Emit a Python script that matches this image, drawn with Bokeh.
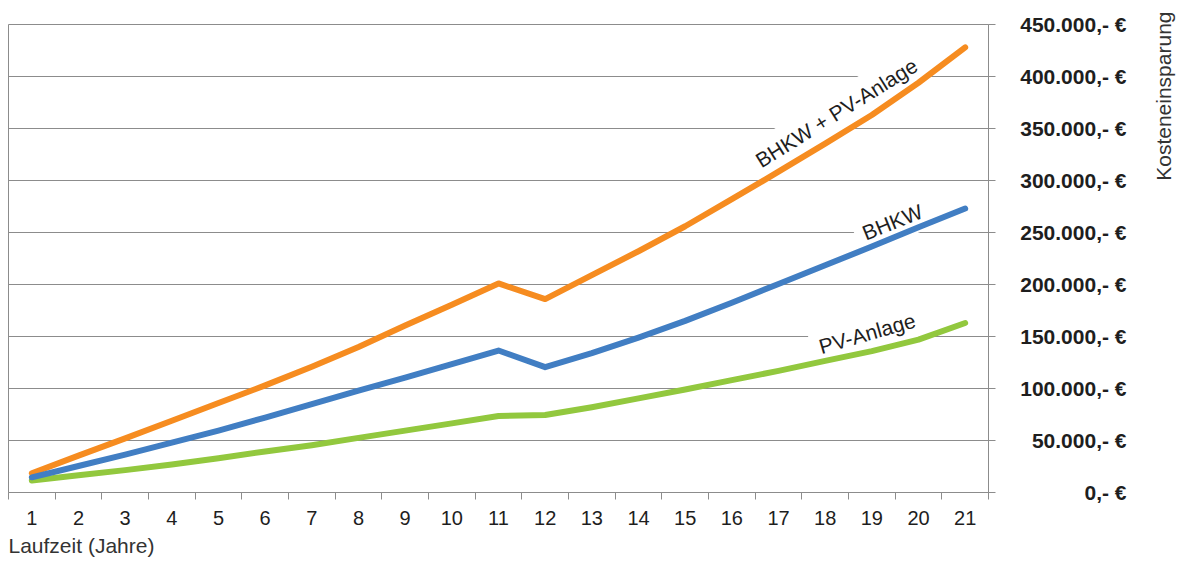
import math
from bokeh.plotting import figure
from bokeh.layouts import row
from bokeh.models import (Range1d, LinearAxis, FixedTicker, Label, Grid, Title,
                          CustomJSTickFormatter)
from bokeh.embed import file_html
from bokeh.resources import INLINE

# ---- data (Kosteneinsparung in EUR) ----
years = list(range(1, 22))
bhkw_pv = [18500, 35500, 52000, 69000, 86000, 103000, 121000, 140000, 160500, 180500,
           201000, 186000, 209000, 232000, 256000, 282000, 308500, 335500, 363000, 394000, 428000]
bhkw = [14600, 25500, 36500, 48000, 59500, 72000, 85000, 98000, 110500, 123500,
        136500, 120500, 134000, 149000, 165000, 182500, 200500, 218500, 236500, 255000, 273000]
pv = [11500, 16500, 21500, 27000, 33000, 39500, 45500, 52500, 59500, 66500,
      73500, 74500, 82000, 90500, 99000, 108000, 117000, 126500, 136000, 147000, 163000]
y_ticks = [0, 50000, 100000, 150000, 200000, 250000, 300000, 350000, 400000, 450000]
y_tick_labels = ["0,- €", "50.000,- €", "100.000,- €", "150.000,- €", "200.000,- €",
                 "250.000,- €", "300.000,- €", "350.000,- €", "400.000,- €", "450.000,- €"]
series_names = ["BHKW + PV-Anlage", "BHKW", "PV-Anlage"]
x_title = "Laufzeit (Jahre)"
y_title = "Kosteneinsparung"

FONT = "Liberation Sans"
GRID = "#8c8c8c"
TXT = "#1e1e1e"
ORANGE = "#F68C20"
BLUE = "#417EC3"
GREEN = "#92C83E"

H = 560
TOP, BOTTOM = 24, 66
LEFT = 8
FRAME_W = 980
RIGHT = 12
MAIN_W = LEFT + FRAME_W + RIGHT
SIDE_W = 1177 - MAIN_W

yr = Range1d(0, 450000)
p = figure(width=MAIN_W, height=H, output_backend="svg", toolbar_location=None,
           x_range=Range1d(0.5, 21.5), y_range=yr,
           x_axis_location=None, y_axis_location=None,
           min_border_left=LEFT, min_border_right=RIGHT, min_border_top=TOP, min_border_bottom=BOTTOM)
p.center = [r for r in p.center if not isinstance(r, Grid)]
p.outline_line_color = GRID
p.outline_line_width = 1
p.background_fill_color = "white"
p.border_fill_color = "white"

p.add_layout(Grid(dimension=1, ticker=FixedTicker(ticks=y_ticks),
                  grid_line_color=GRID, grid_line_width=1))

# bottom axis: labels at category centres, tick marks at boundaries (minor ticks)
xaxis = LinearAxis(ticker=FixedTicker(ticks=years, minor_ticks=[y - 0.5 for y in years] + [21.5]),
                   major_tick_out=0, major_tick_in=0, minor_tick_out=7, minor_tick_in=0,
                   minor_tick_line_color=GRID, axis_line_color=GRID,
                   major_label_text_font=FONT, major_label_text_font_size="20px",
                   major_label_text_color=TXT, major_label_standoff=11)
p.add_layout(xaxis, "below")
p.add_layout(Title(text=x_title, align="left", text_font=FONT, text_font_size="21px",
                   text_font_style="normal", text_color="#333333", standoff=8), "below")

# right axis of the plot: tick marks only
raxis = LinearAxis(ticker=FixedTicker(ticks=y_ticks),
                   formatter=CustomJSTickFormatter(code="return ''"),
                   major_tick_out=7, major_tick_in=0, minor_tick_out=0, minor_tick_in=0,
                   major_tick_line_color=GRID, axis_line_color=GRID, major_label_standoff=0)
p.add_layout(raxis, "right")

# series labels (white box hides grid lines, lines drawn above)
label_pos = [(18.24, 365000, 32), (19.44, 260000, 22), (18.9, 153000, 16)]
for name, (lx, ly, ang) in zip(series_names, label_pos):
    p.add_layout(Label(x=lx, y=ly, text=name, angle=math.radians(ang),
                       text_align="center", text_baseline="middle",
                       text_font=FONT, text_font_size="21px", text_color=TXT,
                       background_fill_color="white", padding=8, level="underlay"))

for vals, col in [(bhkw_pv, ORANGE), (pv, GREEN), (bhkw, BLUE)]:
    p.line(years, vals, line_width=6, line_color=col, line_cap="round", line_join="round")

# side panel: right-aligned value labels (left axis of a slim plot) and axis title
s = figure(width=SIDE_W, height=H, output_backend="svg", toolbar_location=None,
           x_range=Range1d(0, 1), y_range=yr,
           x_axis_location=None, y_axis_location=None,
           min_border_left=SIDE_W - 2, min_border_right=0, min_border_top=TOP, min_border_bottom=BOTTOM)
s.center = [r for r in s.center if not isinstance(r, Grid)]
s.outline_line_color = None
s.background_fill_color = "white"
s.border_fill_color = "white"
s.add_layout(Title(text=y_title, align="right", offset=-13, text_font=FONT,
                   text_font_size="21px", text_font_style="normal",
                   text_color="#333333", standoff=1), "left")
laxis = LinearAxis(ticker=FixedTicker(ticks=y_ticks),
                   major_label_overrides={t: l for t, l in zip(y_ticks, y_tick_labels)},
                   major_tick_out=0, major_tick_in=0, minor_tick_out=0, minor_tick_in=0,
                   major_tick_line_color=None, axis_line_color=None,
                   major_label_standoff=23, major_label_text_font=FONT,
                   major_label_text_font_style="bold", major_label_text_font_size="21px",
                   major_label_text_color=TXT)
s.add_layout(laxis, "left")

layout = row(p, s, spacing=0)
open("out.html", "w").write(file_html(layout, INLINE))
